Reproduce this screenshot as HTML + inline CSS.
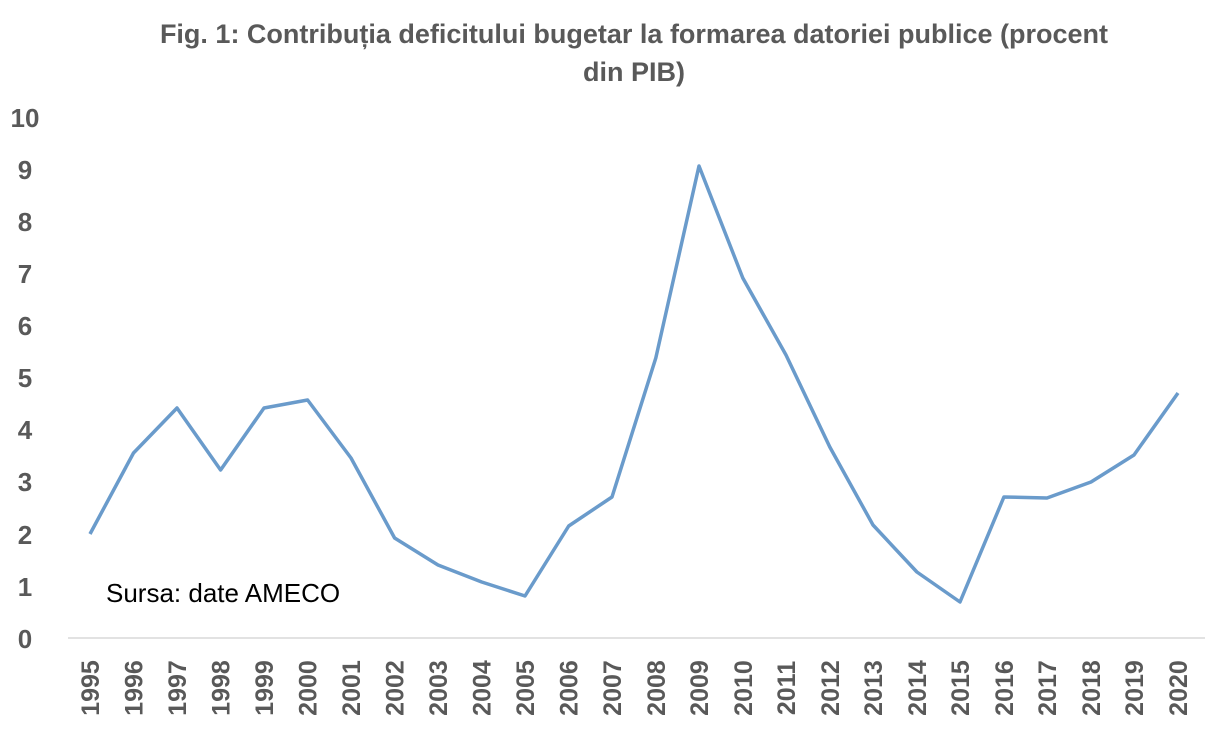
<!DOCTYPE html>
<html><head><meta charset="utf-8"><style>
body{margin:0;background:#fff;}
svg{display:block;font-family:"Liberation Sans",sans-serif;}
</style></head><body>
<svg width="1226" height="732" viewBox="0 0 1226 732">
<text x="634" y="43" text-anchor="middle" font-size="27" font-weight="bold" fill="#595959">Fig. 1: Contribuția deficitului bugetar la formarea datoriei publice (procent</text>
<text x="634" y="81" text-anchor="middle" font-size="27" font-weight="bold" fill="#595959">din PIB)</text>
<g font-size="26" font-weight="bold" fill="#595959" text-anchor="middle">
<text x="25" y="127">10</text><text x="25" y="179">9</text><text x="25" y="231">8</text><text x="25" y="283">7</text><text x="25" y="335">6</text><text x="25" y="387">5</text><text x="25" y="439">4</text><text x="25" y="491">3</text><text x="25" y="544">2</text><text x="25" y="596">1</text><text x="25" y="648">0</text>
</g>
<line x1="68" y1="638" x2="1205" y2="638" stroke="#d9d9d9" stroke-width="1.5"/>
<polyline fill="none" stroke="#6a9bcb" stroke-width="3.5" stroke-linejoin="round" points="90,534 133.5,453 177,408 220.6,470 264,408 307.6,400 351,458 394.6,538 438,565 481.7,582 525,596 568.7,526 612,497 655.8,358 699,166 742.8,278 786,355 829.8,447 873,525 916.9,572 960,602 1003.9,497 1047,498 1091,482 1134,455 1178,393"/>
<text x="106" y="602" font-size="26" fill="#000">Sursa: date AMECO</text>
<g font-size="25" font-weight="bold" fill="#595959" text-anchor="middle">
<text transform="translate(99,688) rotate(-90)">1995</text>
<text transform="translate(142.5,688) rotate(-90)">1996</text>
<text transform="translate(186,688) rotate(-90)">1997</text>
<text transform="translate(229.6,688) rotate(-90)">1998</text>
<text transform="translate(273,688) rotate(-90)">1999</text>
<text transform="translate(316.6,688) rotate(-90)">2000</text>
<text transform="translate(360,688) rotate(-90)">2001</text>
<text transform="translate(403.6,688) rotate(-90)">2002</text>
<text transform="translate(447,688) rotate(-90)">2003</text>
<text transform="translate(490.7,688) rotate(-90)">2004</text>
<text transform="translate(534,688) rotate(-90)">2005</text>
<text transform="translate(577.7,688) rotate(-90)">2006</text>
<text transform="translate(621,688) rotate(-90)">2007</text>
<text transform="translate(664.8,688) rotate(-90)">2008</text>
<text transform="translate(708,688) rotate(-90)">2009</text>
<text transform="translate(751.8,688) rotate(-90)">2010</text>
<text transform="translate(795,688) rotate(-90)">2011</text>
<text transform="translate(838.8,688) rotate(-90)">2012</text>
<text transform="translate(882,688) rotate(-90)">2013</text>
<text transform="translate(925.9,688) rotate(-90)">2014</text>
<text transform="translate(969,688) rotate(-90)">2015</text>
<text transform="translate(1012.9,688) rotate(-90)">2016</text>
<text transform="translate(1056,688) rotate(-90)">2017</text>
<text transform="translate(1100,688) rotate(-90)">2018</text>
<text transform="translate(1143,688) rotate(-90)">2019</text>
<text transform="translate(1187,688) rotate(-90)">2020</text>
</g>
</svg>
</body></html>
